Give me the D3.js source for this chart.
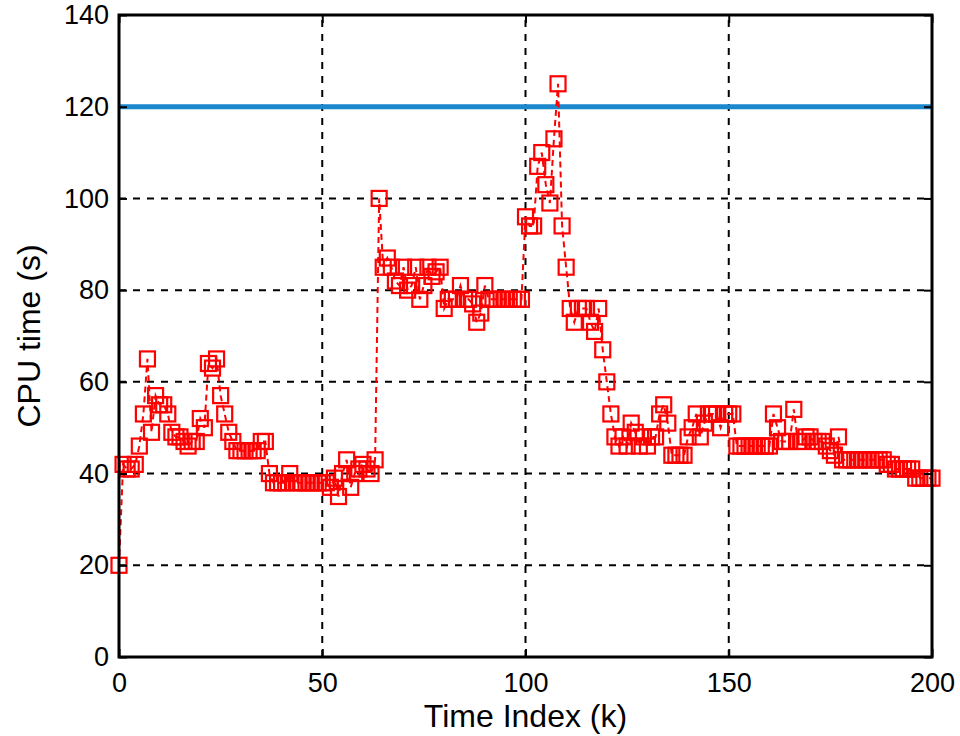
<html>
<head>
<style>
  body { margin: 0; background: #fff; }
  text { font-family: Arial, "Liberation Sans", Helvetica, sans-serif; }
</style>
</head>
<body>
<svg id="chart"></svg>
<script src="https://cdn.jsdelivr.net/npm/d3@7"></script>
<script>
// data, k = 0..200
let cpuTime = [
  20, 42, 41, 41, 42, 46, 53, 65, 49, 57,
  55, 55, 53, 49, 48, 48, 47, 46, 47, 47,
  52, 50, 64, 63, 65, 57, 53, 49, 47, 45,
  45, 45, 45, 45, 45, 47, 47, 40, 38, 38,
  38, 38, 40, 38, 38, 38, 38, 38, 38, 38,
  38, 38, 37, 39, 35, 40, 43, 37, 40, 41,
  42, 41, 40, 43, 100, 85, 87, 85, 82, 81,
  85, 80, 81, 85, 78, 81, 85, 83, 84, 85,
  76, 78, 78, 78, 81, 78, 78, 77, 73, 75,
  81, 78, 78, 78, 78, 78, 78, 78, 78, 78,
  96, 94, 94, 107, 110, 103, 99, 113, 125, 94,
  85, 76, 73, 76, 76, 76, 73, 71, 76, 67,
  60, 53, 48, 46, 48, 46, 51, 49, 46, 48,
  46, 48, 48, 53, 55, 51, 44, 44, 44, 44,
  48, 50, 53, 48, 51, 53, 53, 53, 50, 53,
  53, 53, 46, 46, 46, 46, 46, 46, 46, 46,
  46, 53, 50, 47, 47, 47, 54, 47, 47, 48,
  48, 47, 47, 47, 46, 45, 44, 48, 43, 43,
  43, 43, 43, 43, 43, 43, 43, 43, 43, 42,
  42, 41, 41, 41, 41, 41, 39, 39, 39, 39,
  39
]
let limit = 120
let xTicks = [0, 50, 100, 150, 200]
let yTicks = [0, 20, 40, 60, 80, 100, 120, 140]

let width = 960, height = 736
let margin = { top: 15, right: 28, bottom: 79, left: 119 }

let svg = d3.select("#chart").attr("width", width).attr("height", height)

let x = d3.scaleLinear().domain([0, 200]).range([margin.left, width - margin.right])
let y = d3.scaleLinear().domain([0, 140]).range([height - margin.bottom, margin.top])

// grid
svg.append("g").selectAll("line")
  .data(xTicks.slice(1, -1))
  .enter().append("line")
  .attr("x1", d => x(d)).attr("x2", d => x(d))
  .attr("y1", y(0)).attr("y2", y(140))
  .attr("stroke", "black").attr("stroke-width", 2).attr("stroke-dasharray", "7,7")

svg.append("g").selectAll("line")
  .data(yTicks.slice(1, -1))
  .enter().append("line")
  .attr("x1", x(0)).attr("x2", x(200))
  .attr("y1", d => y(d)).attr("y2", d => y(d))
  .attr("stroke", "black").attr("stroke-width", 2).attr("stroke-dasharray", "7,7")

// limit line
svg.append("line")
  .attr("x1", x(0)).attr("x2", x(200))
  .attr("y1", y(limit)).attr("y2", y(limit))
  .attr("stroke", "#1b87cc").attr("stroke-width", 5)

// series
let line = d3.line().x((d, i) => x(i)).y(d => y(d))
svg.append("path")
  .datum(cpuTime)
  .attr("d", line)
  .attr("fill", "none").attr("stroke", "#ff0000")
  .attr("stroke-width", 2).attr("stroke-dasharray", "6,4")

let s = 15
svg.append("g").selectAll("rect")
  .data(cpuTime)
  .enter().append("rect")
  .attr("x", (d, i) => x(i) - s / 2)
  .attr("y", d => y(d) - s / 2)
  .attr("width", s).attr("height", s)
  .attr("fill", "none").attr("stroke", "#ff0000").attr("stroke-width", 2.2)

// axes (ticks inside, box)
let xAxis = d3.axisBottom(x).tickValues(xTicks).tickSize(-8).tickPadding(16)
let yAxis = d3.axisLeft(y).tickValues(yTicks).tickSize(-8).tickPadding(10)

svg.append("g").attr("transform", `translate(0,${y(0)})`).call(xAxis)
svg.append("g").attr("transform", `translate(${x(0)},0)`).call(yAxis)
svg.append("g").attr("transform", `translate(0,${y(140)})`)
  .call(d3.axisTop(x).tickValues(xTicks).tickSize(-8).tickFormat(""))
svg.append("g").attr("transform", `translate(${x(200)},0)`)
  .call(d3.axisRight(y).tickValues(yTicks).tickSize(-8).tickFormat(""))

svg.selectAll(".domain").remove()
svg.selectAll(".tick line").attr("stroke", "black").attr("stroke-width", 2)
svg.selectAll(".tick text").attr("font-size", 27).attr("fill", "black")
  .style("font-family", "Arial, 'Liberation Sans', sans-serif")

svg.append("rect")
  .attr("x", x(0)).attr("y", y(140))
  .attr("width", x(200) - x(0)).attr("height", y(0) - y(140))
  .attr("fill", "none").attr("stroke", "black").attr("stroke-width", 3)

// labels
svg.append("text")
  .attr("x", (x(0) + x(200)) / 2).attr("y", 727)
  .attr("text-anchor", "middle").attr("font-size", 32)
  .text("Time Index (k)")

svg.append("text")
  .attr("transform", `translate(40,${(y(0) + y(140)) / 2}) rotate(-90)`)
  .attr("text-anchor", "middle").attr("font-size", 32)
  .text("CPU time (s)")
</script>
</body>
</html>
